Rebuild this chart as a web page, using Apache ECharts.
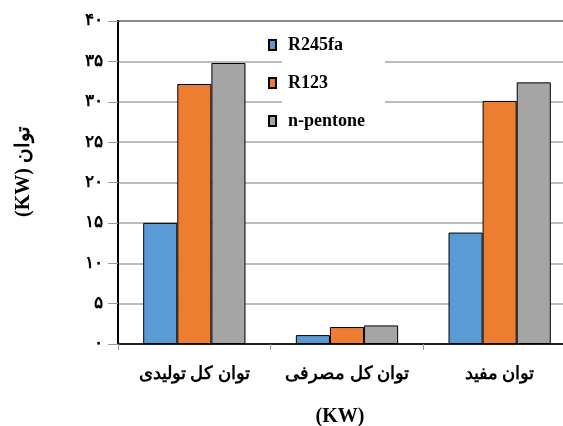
<!DOCTYPE html>
<html>
<head>
<meta charset="utf-8">
<script src="https://cdn.jsdelivr.net/npm/echarts@6/dist/echarts.min.js"></script>
<style>html,body{margin:0;padding:0;background:#fff}#c{width:563px;height:426px}</style>
</head>
<body>
<div id="c"></div>
<script>
const categories = ['توان کل تولیدی', 'توان کل مصرفی', 'توان مفید'];
const seriesNames = ['R245fa', 'R123', 'n-pentone'];
const r245fa = [15.0, 1.1, 13.8];
const r123 = [32.2, 2.1, 30.1];
const npentone = [34.8, 2.3, 32.4];
const yTickLabels = ['۰', '۵', '۱۰', '۱۵', '۲۰', '۲۵', '۳۰', '۳۵', '۴۰'];
const colors = ['#5B9BD5', '#ED7D31', '#A5A5A5'];

const chart = echarts.init(document.getElementById('c'));
const font = '"Liberation Serif", "DejaVu Serif", serif';
const values = [r245fa, r123, npentone];
chart.setOption({
  animation: false,
  backgroundColor: '#fff',
  grid: { left: 118, top: 21, width: 458, height: 323, outerBoundsMode: 'none', containLabel: false,
    show: true, borderColor: '#000', borderWidth: 1.5, backgroundColor: 'transparent' },
  legend: {
    orient: 'vertical', left: 268, top: 36, padding: 0,
    icon: 'rect', itemWidth: 7, itemHeight: 10, itemGap: 20, itemTextGap: 5,
    textStyle: { fontFamily: font, fontWeight: 'bold', fontSize: 18, color: '#000', padding: [0, 0, 0, 7] },
    data: seriesNames
  },
  graphic: [{ type: 'rect', z: 3, shape: { x: 282, y: 28, width: 103, height: 106 }, style: { fill: '#fff' } }],
  xAxis: {
    type: 'category', data: categories,
    name: '(KW)', nameLocation: 'middle', nameGap: 63,
    nameTextStyle: { fontFamily: font, fontWeight: 'bold', fontSize: 20, color: '#000', padding: [0, 14, 0, 0] },
    axisLine: { lineStyle: { color: '#000', width: 1.5 } },
    axisTick: { show: true, interval: 0, length: 6, lineStyle: { color: '#999' } },
    axisLabel: { interval: 0, hideOverlap: false, margin: 21, fontFamily: font, fontWeight: 'bold', fontSize: 18, color: '#000' }
  },
  yAxis: {
    type: 'value', min: 0, max: 40, interval: 5,
    name: '(KW) توان', nameLocation: 'middle', nameGap: 84,
    nameTextStyle: { fontFamily: font, fontWeight: 'bold', fontSize: 20, color: '#000', padding: [0, 0, 0, 22] },
    axisLine: { show: true, lineStyle: { color: '#000', width: 2 } },
    axisTick: { show: true, length: 10, lineStyle: { color: '#999' } },
    axisLabel: { margin: 15, fontFamily: font, fontWeight: 'bold', fontSize: 17, color: '#000',
      formatter: v => yTickLabels[Math.round(v / 5)] },
    splitLine: { lineStyle: { color: '#A6A6A6', width: 1.5 } }
  },
  series: seriesNames.map((n, i) => ({
    name: n, type: 'bar', data: values[i],
    barGap: '0%', barCategoryGap: '33%',
    itemStyle: { color: colors[i], borderColor: '#000', borderWidth: 1 }
  }))
});
</script>
</body>
</html>
